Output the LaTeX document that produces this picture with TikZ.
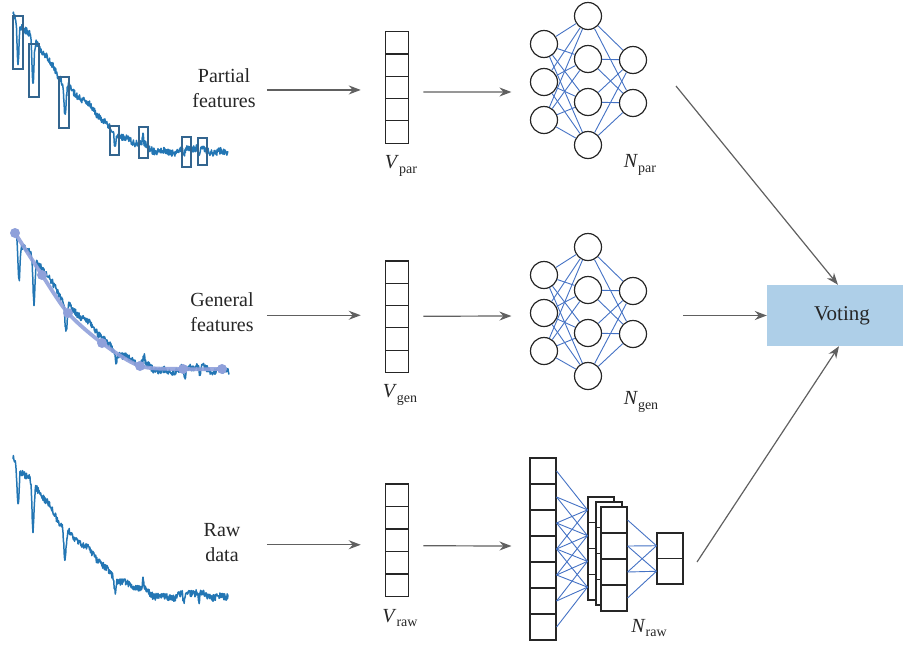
\documentclass[tikz,border=0pt]{standalone}
\usepackage{fontspec}
\setmainfont{Liberation Serif}
\usetikzlibrary{arrows.meta,calc,fit}

\definecolor{specblue}{RGB}{35,118,180}
\definecolor{boxblue}{RGB}{51,101,143}
\definecolor{trendblue}{RGB}{143,160,218}
\definecolor{linkblue}{RGB}{68,114,196}
\definecolor{arrowgray}{RGB}{96,96,96}
\definecolor{votefill}{RGB}{174,207,232}

% subscript set as text
\newcommand{\sbx}[1]{\raisebox{-0.45ex}{\fontsize{14}{14}\selectfont #1}}

% fully connected net: 3 inputs, 4 hidden, 2 outputs
\newcommand{\mlpnet}{%
  \foreach \k/\yy in {1/44,2/82,3/120} \node[neuron] (i\k) at (544,\yy) {};
  \foreach \k/\yy in {1/16,2/59,3/102,4/145} \node[neuron] (h\k) at (588,\yy) {};
  \foreach \k/\yy in {1/60,2/103} \node[neuron] (o\k) at (633,\yy) {};
  \foreach \a in {1,2,3} {\foreach \b in {1,...,4} {\draw[link] (i\a) -- (h\b);}}
  \foreach \a in {1,...,4} {\foreach \b in {1,2} {\draw[link] (h\a) -- (o\b);}}
}

\begin{document}
\begin{tikzpicture}[x=1pt,y=-1pt,
  declare function={
    dip(\x,\c,\w)=exp(0-pow(min(3,abs(\x-\c)/\w),2));
    slp(\x)=max(0,1-(\x-13)/140);
    spec(\x)=150-138*slp(\x)*sqrt(slp(\x))
      +40*dip(\x,18,1.3)+48*dip(\x,33,1.4)+30*dip(\x,65,1.6)
      +12*dip(\x,115,1.1)+10*dip(\x,184,1.2)+9*dip(\x,199,1)
      -9*dip(\x,143,0.8)+2.5*sin(7*\x)+1.5*sin(19*\x+40);
  },
  lab/.style={align=center,font=\fontsize{20}{25}\selectfont,text=black!85},
  sym/.style={font=\fontsize{20}{24}\selectfont,text=black!85,inner sep=0pt},
  cell/.style={draw=black!85,line width=1.1pt,fill=white,inner sep=0pt,minimum width=23pt},
  neuron/.style={circle,draw=black!85,line width=1.2pt,inner sep=0pt,minimum size=27pt},
  link/.style={linkblue,line width=0.9pt},
  arr/.style={arrowgray,line width=1.2pt,-{Stealth[length=12pt,width=9pt,inset=4pt]}},
  spectrum/.style={specblue,line width=1.5pt,line join=round},
  featbox/.style={boxblue,line width=1.2pt},
]
\useasboundingbox (0,0) rectangle (903,646);
\pgfmathsetseed{7}

% ---------- spectra ----------
\draw[spectrum] plot[domain=13:228,samples=560] (\x,{spec(\x)+3.4*rand});
\foreach \xa/\ya/\xb/\yb in {13/16/23/69,29/44/39/97,59/77/69/128,110/126/119/155,
                             139/127/148/158,182/137/191/167,198/138/207/165}
  \draw[featbox] (\xa,\ya) rectangle (\xb,\yb);

\begin{scope}[shift={(1,219)}]
  \draw[spectrum] plot[domain=13:228,samples=560] (\x,{spec(\x)+3.4*rand});
\end{scope}
\draw[trendblue,line width=3.8pt,line cap=round,opacity=0.9] plot[smooth]
  coordinates {(15,233) (42,275) (68,313) (102,343) (140,366) (183,369) (222,369)};
\foreach \px/\py in {15/233,42/275,68/313,102/343,140/366,183/369,222/369}
  \fill[trendblue] (\px,\py) circle (5);

\begin{scope}[shift={(0,445)}]
  \draw[spectrum] plot[domain=13:228,samples=560] (\x,{spec(\x)+3.4*rand});
\end{scope}

% ---------- input labels ----------
\node[lab] (tpar) at (224,88.5) {Partial\\features};
\node[lab] (tgen) at (222,312) {General\\features};
\node[lab] (traw) at (222,543) {Raw\\data};

% ---------- feature vectors ----------
\foreach \k in {1,...,5} {
  \node[cell,minimum height=22.3pt] (vpar-\k) at (397,{31.7+22.3*(\k-0.5)}) {};
  \node[cell,minimum height=22.3pt] (vgen-\k) at (397,{261+22.3*(\k-0.5)}) {};
  \node[cell,minimum height=22.5pt] (vraw-\k) at (397,{484+22.5*(\k-0.5)}) {};
}
\node[fit=(vpar-1)(vpar-5),inner sep=0pt] (vpar) {};
\node[fit=(vgen-1)(vgen-5),inner sep=0pt] (vgen) {};
\node[fit=(vraw-1)(vraw-5),inner sep=0pt] (vraw) {};
\node[sym] (lvpar) at (401,166) {\textit{V}\sbx{par}};
\node[sym] (lvgen) at (400,395) {\textit{V}\sbx{gen}};
\node[sym] (lvraw) at (400,618) {\textit{V}\sbx{raw}};

% ---------- fully connected nets ----------
\begin{scope}[name prefix=par-]
  \mlpnet
\end{scope}
\begin{scope}[shift={(0,231)},name prefix=gen-]
  \mlpnet
\end{scope}
\node[sym] (lnpar) at (640,165) {\textit{N}\sbx{par}};
\node[sym] (lngen) at (641,402) {\textit{N}\sbx{gen}};

% ---------- convolutional net ----------
\foreach \k in {1,...,7}
  \node[cell,minimum width=26pt,minimum height=26pt] (c\k) at (543,{458+26*(\k-0.5)}) {};
\foreach \k in {1,...,4} \node[cell,minimum width=26pt,minimum height=25.75pt] (ma-\k) at (601,{497+25.75*(\k-0.5)}) {};
\foreach \k in {1,...,4} \node[cell,minimum width=26pt,minimum height=25.75pt] (mb-\k) at (609,{502+25.75*(\k-0.5)}) {};
\foreach \k in {1,...,4} \node[cell,minimum width=26pt,minimum height=26pt] (mc-\k) at (614,{507+26*(\k-0.5)}) {};
\foreach \k in {1,2} \node[cell,minimum width=26pt,minimum height=25.5pt] (co-\k) at (670,{533+25.5*(\k-0.5)}) {};
\foreach \j in {1,...,4} {
  \foreach \d in {0,...,3} {
    \pgfmathtruncatemacro\src{\j+\d}
    \draw[link] (c\src.east) -- (ma-\j.west);
  }
}
\foreach \j in {1,2} {
  \foreach \d in {0,1,2} {
    \pgfmathtruncatemacro\src{\j+\d}
    \draw[link] (mc-\src.east) -- (co-\j.west);
  }
}
\node[sym] (lnraw) at (649,628) {\textit{N}\sbx{raw}};

% ---------- voting ----------
\node[fill=votefill,minimum width=136pt,minimum height=61pt,inner sep=0pt,
      font=\fontsize{21}{25}\selectfont,text=black!85] (vote) at (835,315.5) {\hspace*{14pt}Voting};

% ---------- arrows ----------
\draw[arr] ($(vpar.west)+(-118,2.5)$) -- ($(vpar.west)+(-24,2.5)$);
\draw[arr] ($(vgen.west)+(-118,-1.5)$) -- ($(vgen.west)+(-24,-1.5)$);
\draw[arr] ($(vraw.west)+(-118,4.5)$) -- ($(vraw.west)+(-24,4.5)$);

\draw[arr] ($(vpar.east)+(14,4.5)$) -- ($(par-i2.west)+(-18.5,10)$);
\draw[arr] ($(vgen.east)+(14,-0.5)$) -- ($(gen-i2.west)+(-18.5,3)$);
\draw[arr] ($(vraw.east)+(14,5.5)$) -- ($(c4.west)+(-18,-3)$);

\coordinate (s1) at (676,86);
\coordinate (s2) at (683,315.5);
\coordinate (s3) at (697,562);
\draw[arr] (s1) -- ($(vote.north)+(3,0)$);
\draw[arr] (s2) -- (vote.west);
\draw[arr] (s3) -- ($(vote.south)+(4,0)$);
\end{tikzpicture}
\end{document}
